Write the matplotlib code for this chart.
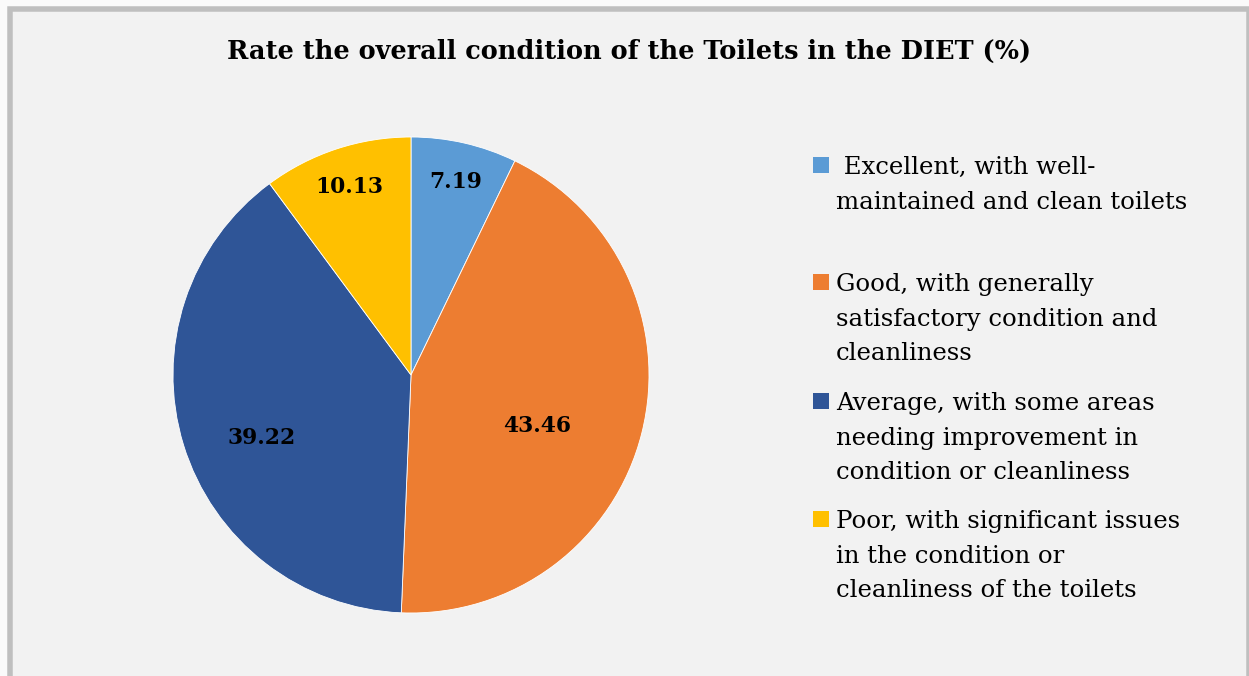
import matplotlib
matplotlib.use("Agg")
import matplotlib.pyplot as plt
from matplotlib.patches import Rectangle
import numpy as np

# --- data -------------------------------------------------------------
title = "Rate the overall condition of the Toilets in the DIET (%)"
categories = [
    " Excellent, with well-\nmaintained and clean toilets",
    "Good, with generally\nsatisfactory condition and\ncleanliness",
    "Average, with some areas\nneeding improvement in\ncondition or cleanliness",
    "Poor, with significant issues\nin the condition or\ncleanliness of the toilets",
]
values = [7.19, 43.46, 39.22, 10.13]
colors = ["#5b9bd5", "#ed7d31", "#2f5597", "#ffc000"]

# --- layout (pixels) --------------------------------------------------
W, H, DPI = 1249, 676, 100
FONT = "DejaVu Serif"

fig = plt.figure(figsize=(W / DPI, H / DPI), dpi=DPI, facecolor="#fafafa")


def px(x, y):
    """pixel (from top-left) -> figure fraction"""
    return x / W, 1 - y / H


# chart area with grey frame
frame = Rectangle(px(10, 700), (1248.5 - 10) / W, (700 - 9) / H,
                  transform=fig.transFigure, facecolor="#f2f2f2",
                  edgecolor="#bfbfbf", linewidth=5.5 * 72 / DPI, zorder=0)
fig.add_artist(frame)

# pie axes: centre (411, 375), radius 238 px
cx, cy, r = 411, 375, 238
ax = fig.add_axes([(cx - r) / W, (H - cy - r) / H, 2 * r / W, 2 * r / H])
ax.set_facecolor("none")
wedges, _ = ax.pie(values, colors=colors, startangle=90, counterclock=False,
                   radius=1.0, wedgeprops=dict(edgecolor="white", linewidth=0.6))
ax.set_xlim(-1, 1)
ax.set_ylim(-1, 1)
ax.set_aspect("equal")
ax.axis("off")

renderer = fig.canvas.get_renderer()


def fit(text_obj, target_px):
    w = text_obj.get_window_extent(renderer).width
    text_obj.set_fontsize(text_obj.get_fontsize() * target_px / w)


# value labels, placed along each wedge's mid-angle
label_radius = [0.83, 0.57, 0.68, 0.83]
label_shift = [0.0, -8.0, 6.0, 0.0]  # degrees
labels = []
for w_, v, rr, sh in zip(wedges, values, label_radius, label_shift):
    ang = np.deg2rad((w_.theta1 + w_.theta2) / 2 + sh)
    t = ax.text(rr * np.cos(ang), rr * np.sin(ang), f"{v:.2f}",
                ha="center", va="center", family=FONT, fontweight="bold",
                fontsize=16, color="black")
    labels.append(t)
fit(labels[1], 68)
for t in labels:
    t.set_fontsize(labels[1].get_fontsize())

# title
tt = fig.text(*px(629, 58.5), title, ha="center", va="baseline",
              family=FONT, fontweight="bold", fontsize=18, color="black")
fit(tt, 806)

# legend
first_baseline = [174, 291, 410, 528]
line_step = 34.7
sq = 16
legend_texts = []
for i, (cat, col) in enumerate(zip(categories, colors)):
    b = first_baseline[i]
    fig.add_artist(Rectangle(px(813, b - 1), sq / W, sq / H,
                             transform=fig.transFigure, facecolor=col,
                             edgecolor="none"))
    for j, line in enumerate(cat.split("\n")):
        t = fig.text(*px(836, b + j * line_step), line, ha="left",
                     va="baseline", family=FONT, fontsize=17, color="black")
        legend_texts.append((line, t))

ref = [t for line, t in legend_texts if line == "maintained and clean toilets"][0]
fit(ref, 351)
for _, t in legend_texts:
    t.set_fontsize(ref.get_fontsize())

fig.savefig("out.png", dpi=DPI, facecolor=fig.get_facecolor())
